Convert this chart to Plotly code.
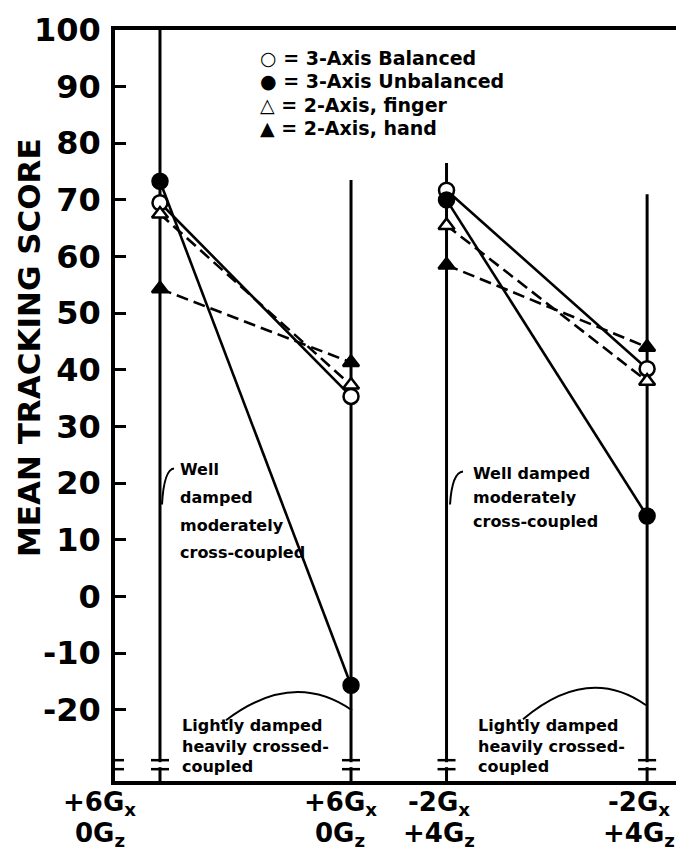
import plotly.graph_objects as go

# condition labels along the bottom and where each condition's vertical sits
cond_top_labels = ["+6G<sub>x</sub>", "+6G<sub>x</sub>", "-2G<sub>x</sub>", "-2G<sub>x</sub>"]
cond_bottom_labels = ["0G<sub>z</sub>", "0G<sub>z</sub>", "+4G<sub>z</sub>", "+4G<sub>z</sub>"]
cond_pos = [1.0, 5.0, 7.0, 11.2]
cond_tops = [100, 73.5, 76.5, 71.0]

# mean tracking score per condition
balanced = [69.5, 35.3, 71.7, 40.2]
unbalanced = [73.3, -15.7, 70.0, 14.2]
finger = [67.5, 37.3, 65.5, 38.0]
hand = [54.3, 41.3, 58.5, 44.0]

y_ticks = list(range(-20, 101, 10))
y_tick_text = [str(v) for v in y_ticks]

series = [
    ("3-Axis Balanced", balanced, "circle", "white", "solid", "○"),
    ("3-Axis Unbalanced", unbalanced, "circle", "black", "solid", "●"),
    ("2-Axis, finger", finger, "triangle-up", "white", "12px,6px", "△"),
    ("2-Axis, hand", hand, "triangle-up", "black", "12px,6px", "▲"),
]

Y_MIN, Y_MAX = -32.6, 100
X_MIN, X_MAX = 0.058, 12.14
FONT = "DejaVu Sans"


# pixel -> data helpers, only used to place the decorations
def X(px):
    return 1 + (px - 152) / 47.75


def Y(py):
    return (589 - py) / 5.67


fig = go.Figure()

for name, vals, sym, fill, dash, _ in series:
    xs = [cond_pos[0], cond_pos[1], None, cond_pos[2], cond_pos[3]]
    ys = [vals[0], vals[1], None, vals[2], vals[3]]
    fig.add_trace(go.Scatter(
        x=xs, y=ys, name=name, mode="lines+markers",
        line=dict(color="black", width=2.6, dash=dash),
        marker=dict(symbol=sym, size=15 if sym == "circle" else 14, color=fill,
                    line=dict(color="black", width=2.5)),
        showlegend=False, connectgaps=False,
    ))

# condition verticals
for xp, top in zip(cond_pos, cond_tops):
    fig.add_shape(type="line", xref="x", yref="y", x0=xp, x1=xp, y0=Y_MIN, y1=top,
                  line=dict(color="black", width=3), layer="below")

# thin right frame edge
fig.add_shape(type="line", xref="x", yref="y", x0=X(682), x1=X(682), y0=Y(22), y1=Y(600),
              line=dict(color="black", width=1.5), layer="below")

# axis break marks near the bottom
for bx in [X_MIN] + cond_pos + [X(681)]:
    fig.add_shape(type="rect", xref="x", yref="y", xsizemode="pixel", xanchor=bx,
                  x0=-4, x1=4, y0=Y(760), y1=Y(755), fillcolor="white", line_width=0)
    for by in (Y(753), Y(762)):
        fig.add_shape(type="line", xref="x", yref="y", xsizemode="pixel", xanchor=bx,
                      x0=-9, x1=9, y0=by, y1=by, line=dict(color="black", width=2.5))

# arcs over the "lightly damped" notes and hooks for the "well damped" notes
fig.add_shape(type="path", xref="x", yref="y",
              path=f"M {X(218)},{Y(713)} Q {X(285)},{Y(662)} {X(344)},{Y(703)}",
              line=dict(color="black", width=2))
fig.add_shape(type="path", xref="x", yref="y",
              path=f"M {X(515)},{Y(712)} Q {X(580)},{Y(657)} {X(638)},{Y(698)}",
              line=dict(color="black", width=2))
fig.add_shape(type="path", xref="x", yref="y",
              path=f"M {X(154)},{Y(497)} Q {X(156)},{Y(462)} {X(166)},{Y(461)}",
              line=dict(color="black", width=2))
fig.add_shape(type="path", xref="x", yref="y",
              path=f"M {X(442)},{Y(497)} Q {X(444)},{Y(465)} {X(455)},{Y(464)}",
              line=dict(color="black", width=2))

annots = []

# legend block
for i, (name, *_rest) in enumerate(series):
    sym_char = _rest[-1]
    annots.append(dict(x=X(250), y=Y(50 + i * 23.5), xref="x", yref="y",
                       text=f"{sym_char} = {name}", showarrow=False,
                       xanchor="left", yanchor="middle",
                       font=dict(size=19, family=FONT, weight="bold", color="black")))

# notes
notes = [
    (170, [462, 490, 518, 545], ["Well", "damped", "moderately", "cross-coupled"]),
    (463, [466, 490, 514], ["Well damped", "moderately", "cross-coupled"]),
    (172, [718, 739, 759], ["Lightly damped", "heavily crossed-", "coupled"]),
    (468, [718, 739, 759], ["Lightly damped", "heavily crossed-", "coupled"]),
]
for px, pys, lines in notes:
    for py, t in zip(pys, lines):
        annots.append(dict(x=X(px), y=Y(py), xref="x", yref="y", text=t, showarrow=False,
                           xanchor="left", yanchor="middle",
                           font=dict(size=16, family=FONT, weight="bold", color="black")))

# condition labels, two rows
label_shift = [-60, -11, -8, -8]
for xp, top_lab, bot_lab, sh in zip(cond_pos, cond_top_labels, cond_bottom_labels, label_shift):
    for lab, ys in ((top_lab, -22), (bot_lab, -53)):
        annots.append(dict(x=xp, y=0, xref="x", yref="paper", text=lab, showarrow=False,
                           xanchor="center", yanchor="middle", xshift=sh, yshift=ys,
                           font=dict(size=26, family=FONT, weight="bold", color="black")))

# y title
annots.append(dict(x=-0.15, y=0.577, xref="paper", yref="paper",
                   text="MEAN TRACKING SCORE", textangle=-90, showarrow=False,
                   xanchor="center", yanchor="middle",
                   font=dict(size=31, family=FONT, weight="bold", color="black")))

fig.update_layout(
    width=684, height=852,
    margin=dict(l=107, r=0, t=22, b=79),
    plot_bgcolor="white", paper_bgcolor="white",
    font=dict(family=FONT, size=16, color="black", weight="bold"),
    annotations=annots,
    xaxis=dict(range=[X_MIN, X_MAX], showticklabels=False, showgrid=False, zeroline=False,
               showline=True, linewidth=3.5, linecolor="black", mirror=True, ticks=""),
    yaxis=dict(range=[Y_MIN, Y_MAX], tickvals=y_ticks, ticktext=y_tick_text,
               showgrid=False, zeroline=False, showline=True, linewidth=3.5,
               linecolor="black", ticks="inside", ticklen=11, tickwidth=3,
               tickcolor="black", ticklabelstandoff=4,
               tickfont=dict(size=32, family=FONT, weight="bold", color="black")),
)

fig.write_html("out.html")
